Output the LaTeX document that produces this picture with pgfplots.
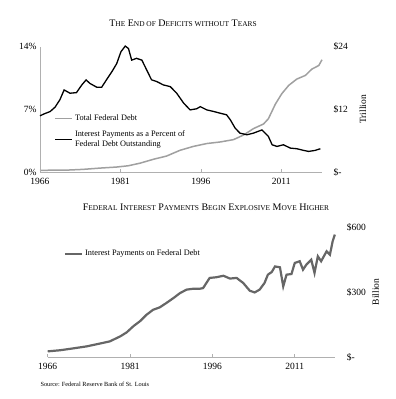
\documentclass[border=0pt]{standalone}
\usepackage{pgfplots}
\pgfplotsset{compat=1.18}
\usepackage{fontspec}
\setmainfont{Liberation Serif}
\definecolor{dgray}{HTML}{666666}
\definecolor{lgray}{HTML}{A0A0A0}
\definecolor{axgray}{HTML}{B0B0B0}
\newcommand{\fsc}[2]{{\fontsize{10}{12}\selectfont #1}{\fontsize{7.4}{9}\selectfont #2}}
\begin{document}
\begin{tikzpicture}
\path[use as bounding box] (0,0) rectangle (396pt,399pt);
\pgfplotsset{every axis/.append style={
  scale only axis,
  /pgf/number format/assume math mode=true,
  tick label style={font=\fontsize{9.5}{11}\selectfont},
  label style={font=\fontsize{9.5}{11}\selectfont},
  axis line style={axgray, line width=0.8pt},
  xtick={1966,1981,1996,2011},
  xticklabels={1966,1981,1996,2011},
  xticklabel style={yshift=-2.5pt},
  x tick style={axgray, line width=0.6pt},
  major tick length=3pt,
  ytick style={draw=none},
  clip=false,
}}
% ---------- Top chart: debt (right scale) ----------
\begin{axis}[
  at={(40pt,227pt)}, anchor=south west,
  width=282pt, height=125.3pt,
  xmin=1966, xmax=2018.6, ymin=0, ymax=24,
  hide x axis,
  axis y line*=right,
  y axis line style={draw=none},
  ytick={0,12,24}, yticklabels={\$-,\$12,\$24},
  yticklabel style={anchor=west, xshift=8pt},
  ylabel={Trillion},
  ylabel style={at={(axis description cs:1.145,0.5)}, anchor=center},
]
\addplot[lgray, line width=1.5pt] coordinates {
(1966,0.32) (1968,0.34) (1971,0.36) (1974,0.5) (1977.2,0.75) (1980.3,0.95)
(1982.5,1.2) (1984.7,1.7) (1987.2,2.45) (1989.6,3.05) (1992.1,4.15) (1994.6,4.9)
(1997.1,5.45) (1999.6,5.75) (2002.1,6.2) (2004.0,7.1) (2005.8,8.3) (2007.7,9.2)
(2008.6,10.2) (2009.9,13.0) (2011.1,15.0) (2012.4,16.6) (2013.9,17.8) (2015.5,18.5)
(2016.7,19.7) (2018.0,20.4) (2018.6,21.5)
};
\end{axis}
% ---------- Top chart: interest rate (left scale) ----------
\begin{axis}[
  at={(40pt,227pt)}, anchor=south west,
  width=282pt, height=125.3pt,
  xmin=1966, xmax=2018.6, ymin=0, ymax=14,
  axis x line*=bottom, axis y line*=left,
  ytick={0,7,14}, yticklabels={0\%,7\%,14\%},
  legend style={draw=none, fill=none, at={(0.04,0.49)}, anchor=north west,
    font=\fontsize{8.3}{9.5}\selectfont, row sep=5pt,
    cells={align=left}},
  legend cell align=left,
]
\addlegendimage{lgray, line width=1.5pt}
\addlegendentry{Total Federal Debt}
\addplot[black, line width=1.3pt] coordinates {
(1966.0,6.28) (1966.8,6.5) (1967.9,6.76) (1968.8,7.24) (1969.7,8.06) (1970.5,9.17)
(1971.6,8.8) (1972.8,8.87) (1973.8,9.73) (1974.6,10.29) (1975.3,9.9) (1976.6,9.47)
(1977.5,9.47) (1978.4,10.3) (1979.4,11.2) (1980.3,12.1) (1981.1,13.44) (1981.9,14.07)
(1982.5,13.8) (1983.1,12.5) (1984.0,12.7) (1985.0,12.5) (1985.9,11.4) (1986.8,10.3)
(1987.8,10.1) (1989.0,9.73) (1990.3,9.54) (1991.5,8.8) (1992.8,7.69) (1994.0,6.94)
(1995.2,7.06) (1995.9,7.3) (1997.1,6.94) (1998.4,6.76) (1999.6,6.57) (2000.8,6.39)
(2001.5,5.83) (2002.4,4.9) (2003.3,4.34) (2004.6,4.16) (2005.8,4.34) (2007.4,4.7)
(2008.0,4.34) (2008.6,3.97) (2009.3,3.04) (2010.2,2.86) (2011.4,3.04) (2012.7,2.67)
(2013.9,2.6) (2015.2,2.41) (2016.1,2.3) (2017.3,2.41) (2018.3,2.6)
};
\addlegendentry{Interest Payments as a Percent of\\Federal Debt Outstanding}
\end{axis}
\node at (183pt,376pt) {\fsc{T}{HE} \fsc{E}{ND OF} \fsc{D}{EFICITS WITHOUT} \fsc{T}{EARS}};
% ---------- Bottom chart ----------
\begin{axis}[
  at={(47.7pt,42pt)}, anchor=south west,
  width=287.7pt, height=130pt,
  xmin=1966, xmax=2018.4, ymin=0, ymax=600,
  axis x line*=bottom, axis y line*=right,
  y axis line style={draw=none},
  ytick={0,300,600}, yticklabels={\$-,\$300,\$600},
  yticklabel style={anchor=west, xshift=8pt},
  ylabel={Billion},
  ylabel style={at={(axis description cs:1.14,0.5)}, anchor=center},
  legend style={draw=none, fill=none, at={(0.045,0.855)}, anchor=north west,
    font=\fontsize{8.3}{9.5}\selectfont},
  legend cell align=left,
]
\addplot[dgray, line width=2.2pt] coordinates {
(1966,26) (1968.2,31) (1970.7,40) (1973.1,49) (1975.5,62) (1977.3,72) (1979.2,95)
(1980.4,114) (1981.6,142) (1982.8,165) (1984.0,195) (1985.2,218) (1986.4,229)
(1987.6,249) (1988.9,272) (1990.1,295) (1991.3,311) (1992.5,315) (1993.7,315)
(1994.3,318) (1995.5,365) (1996.7,368) (1998.0,375) (1999.2,362) (2000.4,365)
(2001.6,342) (2002.8,306) (2003.7,298) (2004.6,311) (2005.5,342) (2006.1,380)
(2006.8,392) (2007.4,418) (2008.3,414) (2008.9,326) (2009.5,380) (2010.4,383)
(2011.0,434) (2011.9,442) (2012.5,403) (2013.1,426) (2014.0,449) (2014.6,388)
(2015.2,465) (2015.8,442) (2016.8,488) (2017.4,472) (2017.9,534) (2018.3,565)
};
\addlegendentry{Interest Payments on Federal Debt}
\end{axis}
\node at (206pt,192pt) {\fsc{F}{EDERAL} \fsc{I}{NTEREST} \fsc{P}{AYMENTS} \fsc{B}{EGIN} \fsc{E}{XPLOSIVE} \fsc{M}{OVE} \fsc{H}{IGHER}};
\node[anchor=west, font=\fontsize{6.3}{7}\selectfont] at (37pt,15pt) {Source: Federal Reserve Bank of St. Louis};
\end{tikzpicture}
\end{document}
